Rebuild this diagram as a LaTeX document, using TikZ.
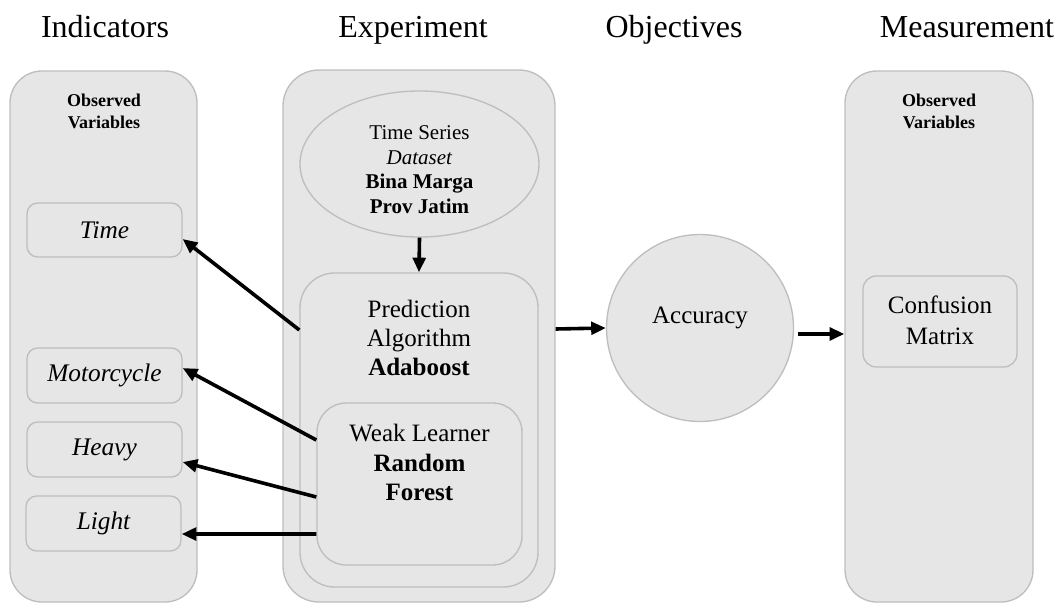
\documentclass[tikz,border=0pt]{standalone}
\usepackage{fontspec}
\setmainfont{Liberation Serif}
\usetikzlibrary{arrows.meta,shapes.geometric,calc}
\definecolor{boxfill}{RGB}{230,230,230}
\definecolor{boxline}{RGB}{190,190,190}
\begin{document}
\begin{tikzpicture}[x=0.75pt,y=-0.75pt,
  panel/.style={draw=boxline,fill=boxfill,line width=1pt,inner sep=0pt},
  rbox/.style={panel,rectangle,rounded corners=#1},
  rbox/.default=8pt,
  title/.style={font=\fontsize{24}{28}\selectfont,anchor=base,inner sep=0pt},
  obs/.style={font=\bfseries\fontsize{13.5}{16.5}\selectfont,align=center,inner sep=0pt},
  lbl/.style={font=\itshape\fontsize{19}{22}\selectfont},
  txt/.style={font=\fontsize{18.75}{21.75}\selectfont,align=center,inner sep=0pt},
  conn/.style={line width=2.7pt,-{Triangle[length=11pt,width=9.5pt]}}
]
\useasboundingbox (0,0) rectangle (1063,603);
% titles
\node[title] (tInd) at (105,37) {Indicators};
\node[title] (tExp) at (413,37) {Experiment};
\node[title] (tObj) at (674,37) {Objectives};
\node[title] (tMea) at (967,37) {Measurement};
% columns
\node[rbox=24pt,minimum width=140.25pt,minimum height=398.25pt] (ind) at (103.5,336.5) {};
\node[rbox=27pt,minimum width=204pt,minimum height=399pt] (exp) at (419,336) {};
\node[rbox=24pt,minimum width=141pt,minimum height=398.25pt] (meas) at (939,336.5) {};
\node[obs] (obsL) at (104,111) {Observed\\Variables};
\node[obs] (obsR) at (939,111) {Observed\\Variables};
% indicator boxes
\node[rbox=8pt,minimum width=116.25pt,minimum height=40.5pt,lbl] (time) at (104.5,230) {Time};
\node[rbox=8pt,minimum width=116.25pt,minimum height=41.25pt,lbl] (motor) at (104.5,375.5) {Motorcycle};
\node[rbox=8pt,minimum width=116.25pt,minimum height=41.25pt,lbl] (heavy) at (104.5,449.5) {Heavy};
\node[rbox=8pt,minimum width=116.25pt,minimum height=41.25pt,lbl] (light) at (103.5,523.5) {Light};
% experiment
\node[panel,ellipse,minimum width=179.25pt,minimum height=109.5pt] (ds) at (419.5,164) {};
\node[font=\fontsize{15.75}{18.5}\selectfont,align=center,inner sep=0pt] (dsT) at (419.5,169.5) {Time Series\\\textit{Dataset}\\\textbf{Bina Marga}\\\textbf{Prov Jatim}};
\node[rbox=26pt,minimum width=178.5pt,minimum height=235.5pt] (pred) at (419,430) {};
\node[txt] (predT) at (419,338) {Prediction\\Algorithm\\\textbf{Adaboost}};
\node[rbox=22pt,minimum width=153.75pt,minimum height=121.5pt] (weak) at (419.5,484) {};
\node[txt,font=\fontsize{18.75}{22}\selectfont] (weakT) at (419.5,462.5) {Weak Learner\\\textbf{Random}\\\textbf{Forest}};
% objectives
\node[panel,circle,minimum size=140.25pt] (acc) at (700,328) {};
\node[txt] (accT) at (700,318) {Accuracy};
% measurement
\node[rbox=10pt,minimum width=115.5pt,minimum height=68.25pt] (conf) at (940,321.5) {};
\node[txt,font=\fontsize{18.75}{23}\selectfont] (confT) at (940,320) {Confusion\\Matrix};
% connectors
\draw[conn] (ds.south) -- (pred.north);
\draw[conn] ([yshift=75pt]pred.west) -- ([yshift=-6.75pt]time.east);
\draw[conn] ([yshift=33pt]weak.west) -- ([yshift=5.6pt]motor.east);
\draw[conn] ([yshift=-9.75pt]weak.west) -- ([yshift=-9.4pt]heavy.east);
\draw[conn] ([yshift=-37.5pt]weak.west) -- ([yshift=-7.9pt]light.east);
\draw[conn] ([yshift=5.25pt]exp.east) -- (acc.west);
\draw[conn] ([xshift=3pt,yshift=-4.5pt]acc.east) -- ([yshift=1.9pt]meas.west);
\end{tikzpicture}
\end{document}
